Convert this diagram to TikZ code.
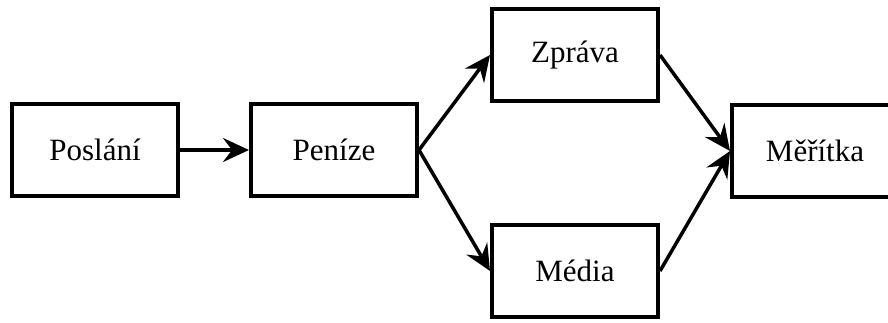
\documentclass[tikz,border=0pt]{standalone}
\usepackage{fontspec}
\setmainfont{Liberation Serif}
\usetikzlibrary{arrows.meta}
\begin{document}
\begin{tikzpicture}[x=1pt,y=-1pt,
  box/.style={draw=black,line width=4pt,minimum width=166pt,minimum height=92pt,inner sep=0pt,font=\fontsize{31}{36}\selectfont},
  conn/.style={line width=3.5pt,-{Stealth[length=26pt,width=24pt,inset=9pt]}}]
\useasboundingbox (0,0) rectangle (888,322);
\node[box] (posl) at (95,150) {Poslání};
\node[box] (pen) at (334,150) {Peníze};
\node[box] (zpr) at (575,55) {Zpráva};
\node[box] (med) at (575,271) {Média};
\node[box] (mer) at (815,151) {Měřítka};
\draw[conn] (posl.east) -- (pen.west);
\draw[conn] (pen.east) -- (zpr.west);
\draw[conn] (pen.east) -- (med.west);
\draw[conn] (zpr.east) -- (mer.west);
\draw[conn] (med.east) -- (mer.west);
\end{tikzpicture}
\end{document}
